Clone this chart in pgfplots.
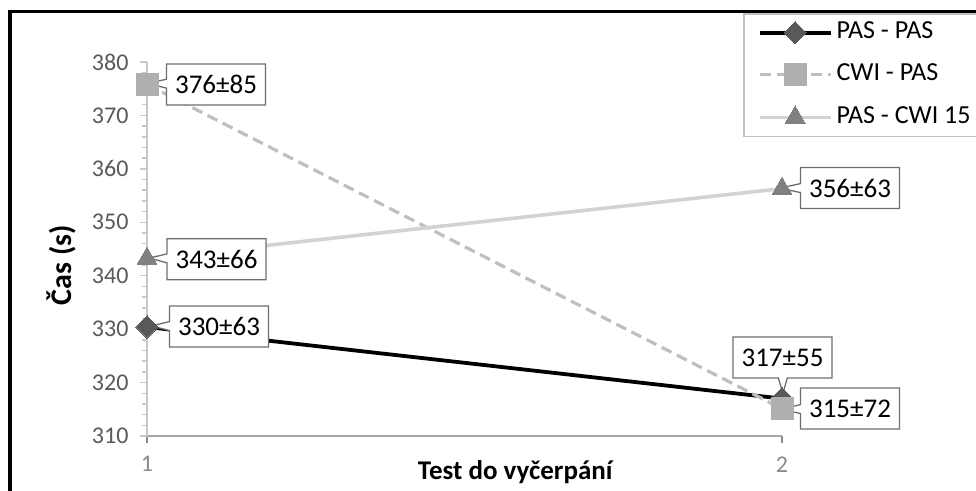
\documentclass[border=0pt]{standalone}
\usepackage{fontspec}
\setmainfont{Carlito}
\usepackage{pgfplots}
\pgfplotsset{compat=1.18}
\usetikzlibrary{shapes.callouts}
\definecolor{tickgray}{HTML}{595959}
\definecolor{xtickgray}{HTML}{8A8A8A}
\definecolor{yaxgray}{HTML}{C8C8C8}
\definecolor{xaxgray}{HTML}{A6A6A6}
\definecolor{diamc}{HTML}{595959}
\definecolor{sqc}{HTML}{AFAFAF}
\definecolor{dashc}{HTML}{BFBFBF}
\definecolor{tric}{HTML}{808080}
\definecolor{trilc}{HTML}{D3D3D3}
\definecolor{boxc}{HTML}{6E6E6E}
\definecolor{legc}{HTML}{C0C0C0}
\tikzset{cbox/.style={rectangle callout, draw=boxc, line width=1.3pt, fill=white,
  minimum width=99pt, minimum height=41pt, inner sep=0pt, callout pointer width=9pt,
  font=\fontsize{27}{31}\selectfont}}
\begin{document}
\begin{tikzpicture}[x=1pt,y=1pt]
\useasboundingbox (0,0) rectangle (976,490);
\clip (0,0) rectangle (976,490);
\draw[line width=4pt] (10,-5) -- (10,478.5);
\draw[line width=3pt] (8,478.5) -- (990,478.5);
\begin{axis}[
  at={(147pt,54pt)}, anchor=south west,
  scale only axis, width=635pt, height=374pt,
  xmin=1, xmax=2, ymin=310, ymax=380,
  clip=false,
  axis x line=bottom, axis y line=left, axis line style={-},
  x axis line style={draw=xaxgray, line width=1.5pt},
  y axis line style={draw=yaxgray, line width=2pt},
  xtick={1,2}, ytick={310,320,...,380}, minor y tick num=4,
  tick align=outside,
  major tick length=7pt, minor tick length=5pt,
  every tick/.style={draw=yaxgray, line width=1.5pt},
  xtick style={draw=xtickgray, line width=1.2pt},
  /pgf/number format/assume math mode=true,
  yticklabel style={font=\fontsize{24}{28}\selectfont, text=tickgray, xshift=-8pt},
  xticklabel style={font=\fontsize{24}{28}\selectfont, text=xtickgray, yshift=-10pt},
  xlabel={\textbf{Test do vyčerpání}},
  xlabel style={at={(rel axis cs:0.581,-0.115)}, anchor=base, font=\fontsize{27}{31}\selectfont},
  ylabel={\textbf{Čas (s)}},
  ylabel style={at={(rel axis cs:-0.1354,0.457)}, anchor=center, rotate=0, font=\fontsize{30}{34}\selectfont},
  legend image code/.code={\draw[mark repeat=2,mark phase=2,#1] plot coordinates {(0pt,0pt) (35.5pt,0pt) (71pt,0pt)};},
  legend style={at={(0.9386,1.131)}, anchor=north west, draw=legc, line width=1.5pt,
    font=\fontsize{26}{30}\selectfont, row sep=20pt, inner xsep=14pt, inner ysep=8pt,
    nodes={text height=17pt, text depth=5pt, inner ysep=0pt, inner xsep=4pt}},
  legend cell align=left,
]
\addplot[black, line width=3.8pt, mark=square*, mark size=7.8pt,
  mark options={solid, rotate=45, fill=diamc, draw=diamc, line width=0pt}]
  coordinates {(1,330.4) (2,317)};
\addlegendentry{PAS - PAS}
\addplot[dashc, line width=3.2pt, dash pattern=on 11pt off 6pt, mark=square*, mark size=11pt,
  mark options={solid, fill=sqc, draw=sqc, line width=0pt}]
  coordinates {(1,375.8) (2,315.1)};
\addlegendentry{CWI - PAS}
\addplot[trilc, line width=3.6pt, mark=triangle*, mark size=11.5pt,
  mark options={solid, fill=tric, draw=tric, line width=0pt}]
  coordinates {(1,343.2) (2,356.3)};
\addlegendentry{PAS - CWI 15}
\node[cbox, callout absolute pointer={(axis cs:1.002,376)}] at (axis cs:1.1087,375.8) {376±85};
\node[cbox, callout absolute pointer={(axis cs:1.004,343.3)}] at (axis cs:1.1095,343.1) {343±66};
\node[cbox, callout absolute pointer={(axis cs:1.007,330.6)}] at (axis cs:1.1134,330.5) {330±63};
\node[cbox, callout absolute pointer={(axis cs:1.997,356.4)}] at (axis cs:2.1071,356.4) {356±63};
\node[cbox, callout absolute pointer={(axis cs:2.0016,318)}] at (axis cs:2.0008,324.7) {317±55};
\node[cbox, callout absolute pointer={(axis cs:1.9995,315)}] at (axis cs:2.1071,315.15) {315±72};
\end{axis}
\end{tikzpicture}
\end{document}
